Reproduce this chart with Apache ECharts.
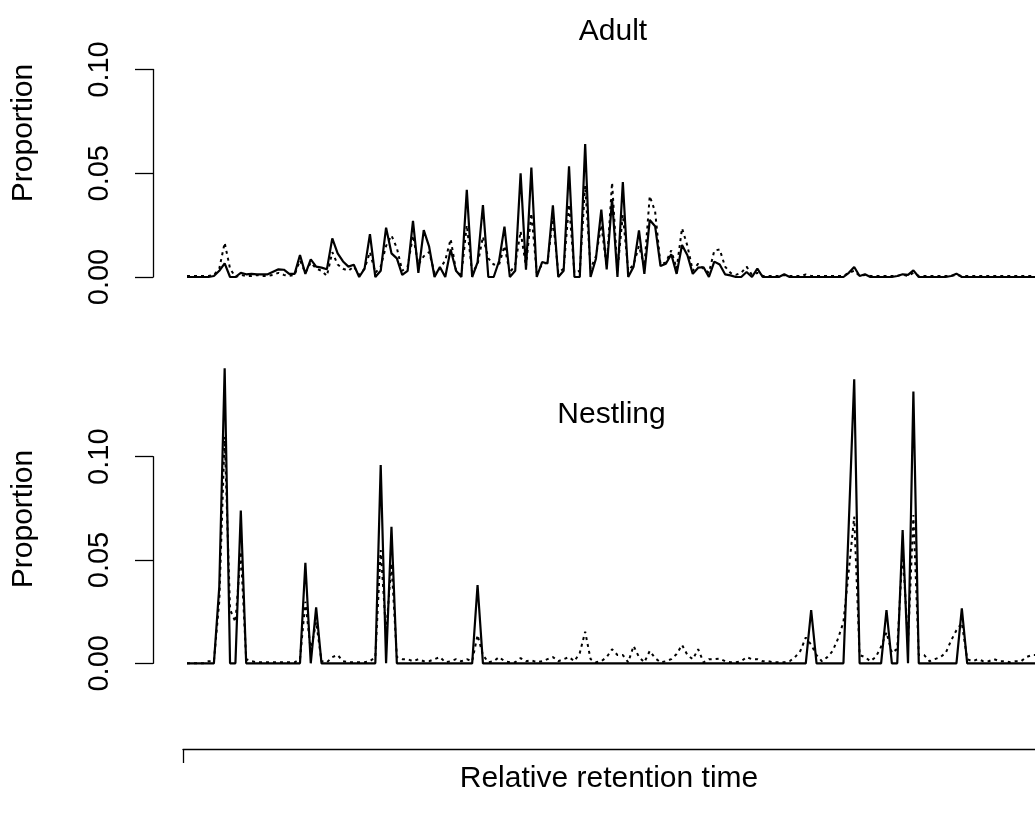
<!DOCTYPE html>
<html>
<head>
<meta charset="utf-8">
<script src="https://cdn.jsdelivr.net/npm/echarts@6/dist/echarts.min.js"></script>
<style>
html,body{margin:0;padding:0;background:#fff;}
#chart{width:1035px;height:818px;}
</style>
</head>
<body>
<div id="chart"></div>
<script>
// Adult: solid line (one value per retention step, starting at step 0)
const adultSolid = [
  0, 0, 0, 0, 0, 0.0005, 0.003, 0.0066, 0, 0, 0.002, 0.0013, 0.0015, 0.0013, 0.0013, 0.0013, 0.0025, 0.0037, 0.0035, 0.0015,
  0.0015, 0.0106, 0.0015, 0.0085, 0.005, 0.0045, 0.0037, 0.0186, 0.0114, 0.0075, 0.005, 0.0059, 0, 0.004, 0.0207, 0, 0.003, 0.0238, 0.0114, 0.009,
  0.001, 0.003, 0.0271, 0.002, 0.0226, 0.0146, 0, 0.0048, 0, 0.0133, 0.003, 0, 0.042, 0, 0.007, 0.0347, 0, 0, 0.0077, 0.0243,
  0, 0.003, 0.050, 0.0035, 0.0528, 0, 0.0072, 0.0065, 0.0345, 0, 0.003, 0.0533, 0, 0, 0.0641, 0, 0.0088, 0.0325, 0.0037, 0.0375,
  0, 0.0457, 0, 0.005, 0.0225, 0.0015, 0.0275, 0.0245, 0.0053, 0.0064, 0.011, 0.0015, 0.0154, 0.0105, 0.0015, 0.0045, 0.0047, 0, 0.0074, 0.006,
  0.0013, 0.0008, 0, 0, 0.0024, 0, 0.004, 0, 0, 0, 0, 0.0013, 0, 0, 0, 0, 0, 0, 0, 0,
  0, 0, 0, 0.002, 0.0048, 0.0005, 0.0013, 0, 0, 0, 0, 0, 0.0005, 0.0013, 0.001, 0.0032, 0, 0, 0, 0,
  0, 0, 0.0005, 0.0016, 0, 0, 0, 0, 0, 0, 0, 0, 0, 0, 0, 0, 0, 0, 0, 0
];
// Adult: dotted line
const adultDotted = [
  0.0005, 0.0005, 0.0005, 0.0005, 0.0005, 0.001, 0.004, 0.0165, 0.004, 0, 0.001, 0.0005, 0.0005, 0.001, 0.0005, 0.0005, 0.001, 0.002, 0.001, 0.0005,
  0.001, 0.008, 0.002, 0.007, 0.004, 0.003, 0.0005, 0.012, 0.006, 0.004, 0.003, 0.005, 0.001, 0.004, 0.012, 0.002, 0.005, 0.015, 0.02, 0.014,
  0.003, 0.005, 0.02, 0.006, 0.01, 0.012, 0.002, 0.004, 0.008, 0.0183, 0.003, 0.001, 0.025, 0.002, 0.006, 0.0194, 0.009, 0.006, 0.006, 0.015,
  0.002, 0.006, 0.022, 0.005, 0.0307, 0.002, 0.006, 0.007, 0.028, 0.002, 0.004, 0.035, 0.002, 0.003, 0.044, 0.004, 0.01, 0.025, 0.005, 0.0455,
  0.003, 0.03, 0.003, 0.006, 0.015, 0.005, 0.039, 0.0315, 0.006, 0.007, 0.0128, 0.004, 0.0235, 0.015, 0.003, 0.0064, 0.004, 0.002, 0.0127, 0.0133,
  0.005, 0.002, 0.001, 0.002, 0.005, 0.001, 0.002, 0.0005, 0.0005, 0.0005, 0.0005, 0.001, 0.0005, 0.0005, 0.0005, 0.0012, 0.0005, 0.0005, 0.0005, 0.0005,
  0.0005, 0.0005, 0.0005, 0.002, 0.003, 0.0005, 0.001, 0.0005, 0.0005, 0.0005, 0.0005, 0.0005, 0.0005, 0.0012, 0.0005, 0.002, 0.0005, 0.0005, 0.0005, 0.0005,
  0.0005, 0.0005, 0.0005, 0.001, 0.0005, 0.0005, 0.0005, 0.0005, 0.0005, 0.0005, 0.0005, 0.0005, 0.0005, 0.0005, 0.0005, 0.0005, 0.0005, 0.0005, 0.0005, 0.0005
];
// Nestling: solid line
const nestlingSolid = [
  0, 0, 0, 0, 0, 0, 0.037, 0.1428, 0, 0, 0.0739, 0, 0, 0, 0, 0, 0, 0, 0, 0,
  0, 0, 0.0487, 0, 0.0271, 0, 0, 0, 0, 0, 0, 0, 0, 0, 0, 0, 0.096, 0, 0.0661, 0,
  0, 0, 0, 0, 0, 0, 0, 0, 0, 0, 0, 0, 0, 0, 0.0379, 0, 0, 0, 0, 0,
  0, 0, 0, 0, 0, 0, 0, 0, 0, 0, 0, 0, 0, 0, 0, 0, 0, 0, 0, 0,
  0, 0, 0, 0, 0, 0, 0, 0, 0, 0, 0, 0, 0, 0, 0, 0, 0, 0, 0, 0,
  0, 0, 0, 0, 0, 0, 0, 0, 0, 0, 0, 0, 0, 0, 0, 0, 0.0258, 0, 0, 0,
  0, 0, 0, 0.068, 0.1375, 0, 0, 0, 0, 0, 0.0258, 0, 0, 0.0645, 0, 0.1315, 0, 0, 0, 0,
  0, 0, 0, 0, 0.0266, 0, 0, 0, 0, 0, 0, 0, 0, 0, 0, 0, 0, 0, 0, 0
];
// Nestling: dotted line
const nestlingDotted = [
  0, 0, 0, 0, 0.001, 0.001, 0.03, 0.1097, 0.026, 0.02, 0.054, 0.002, 0.001, 0.0005, 0.0005, 0.0005, 0.0005, 0.0005, 0.0005, 0.0005,
  0.0005, 0.002, 0.0298, 0.006, 0.02, 0.001, 0.0005, 0.003, 0.004, 0.001, 0.0005, 0.0005, 0.0005, 0.0005, 0.001, 0.003, 0.0548, 0.015, 0.0484, 0.003,
  0.002, 0.002, 0.001, 0.002, 0.001, 0.001, 0.002, 0.003, 0.0005, 0.001, 0.002, 0.001, 0.002, 0.001, 0.0137, 0.004, 0.0005, 0.001, 0.003, 0.001,
  0.0005, 0.0005, 0.0025, 0.001, 0.0015, 0.0005, 0.001, 0.002, 0.003, 0.001, 0.002, 0.003, 0.001, 0.005, 0.0153, 0.002, 0.0005, 0.001, 0.003, 0.0068,
  0.004, 0.004, 0.0005, 0.0084, 0.003, 0.0005, 0.006, 0.0025, 0.0005, 0.001, 0.002, 0.0045, 0.0089, 0.004, 0.002, 0.0068, 0.0005, 0.002, 0.002, 0.0023,
  0.001, 0.0005, 0.0005, 0.001, 0.003, 0.002, 0.002, 0.001, 0.001, 0.0005, 0.0005, 0.0005, 0.001, 0.003, 0.006, 0.0125, 0.009, 0.004, 0.001, 0.003,
  0.006, 0.012, 0.02, 0.045, 0.071, 0.004, 0.003, 0.001, 0.003, 0.008, 0.015, 0.005, 0.007, 0.055, 0.01, 0.0718, 0.004, 0.004, 0.001, 0.002,
  0.003, 0.005, 0.011, 0.016, 0.0195, 0.002, 0.001, 0.002, 0.001, 0.001, 0.002, 0.001, 0.001, 0.0005, 0.001, 0.001, 0.003, 0.004, 0.004, 0.003
];
// Y tick values
const yTicks = [0, 0.05, 0.10];
// Visible span of the retention-step axis (steps beyond the right edge are cut off, as in the original)
const stepRange = [0, 157.6];

const FONT = 'Liberation Sans, Arial, Helvetica, sans-serif';
const chart = echarts.init(document.getElementById('chart'), null, {renderer: 'canvas'});

const toPoints = arr => arr.map((v, i) => [i, v]);

function yAxisFor(gridIndex) {
  return {
    gridIndex: gridIndex,
    type: 'value',
    min: yTicks[0],
    max: yTicks[yTicks.length - 1],
    interval: yTicks[1] - yTicks[0],
    offset: 34,
    splitLine: {show: false},
    axisLine: {show: true, onZero: false, lineStyle: {color: '#000', width: 1.3}},
    axisTick: {show: true, length: 18, lineStyle: {color: '#000', width: 1.3}},
    axisLabel: {
      rotate: 90, margin: 39, color: '#000', fontSize: 29, fontFamily: FONT,
      formatter: v => v.toFixed(2)
    }
  };
}
function xAxisFor(gridIndex) {
  return {
    gridIndex: gridIndex, type: 'value', min: stepRange[0], max: stepRange[1], show: false,
    axisLine: {onZero: false}
  };
}
const solidStyle = {color: '#000', width: 2.2};
const dottedStyle = {color: '#000', width: 2, type: [3, 4]};
const titleStyle = {fontSize: 30, fontWeight: 'normal', color: '#000', fontFamily: FONT};

chart.setOption({
  animation: false,
  backgroundColor: '#fff',
  title: [
    {text: 'Adult', left: 608, top: 12, textAlign: 'center', padding: 5, textStyle: titleStyle},
    {text: 'Nestling', left: 606.5, top: 395, textAlign: 'center', padding: 5, textStyle: titleStyle},
    {text: 'Relative retention time', left: 604, top: 759, textAlign: 'center', padding: 5, textStyle: titleStyle}
  ],
  graphic: [
    {type: 'text', x: 24, y: 133, rotation: Math.PI / 2,
     style: {text: 'Proportion', fontSize: 30, fontFamily: FONT, fill: '#000', align: 'center', verticalAlign: 'middle'}},
    {type: 'text', x: 24, y: 519, rotation: Math.PI / 2,
     style: {text: 'Proportion', fontSize: 30, fontFamily: FONT, fill: '#000', align: 'center', verticalAlign: 'middle'}}
  ],
  grid: [
    {left: 187, top: 69.5, right: 0, height: 207.5},
    {left: 187, top: 456.7, right: 0, height: 206.6},
    {left: 183, top: 748, right: 0, height: 1}
  ],
  xAxis: [
    xAxisFor(0),
    xAxisFor(1),
    {
      gridIndex: 2, type: 'value', min: 0, max: 10, position: 'bottom',
      splitLine: {show: false},
      axisLine: {show: true, onZero: false, lineStyle: {color: '#000', width: 1.3}},
      axisTick: {show: true, length: 14, customValues: [0], lineStyle: {color: '#000', width: 1.3}},
      axisLabel: {show: false}
    }
  ],
  yAxis: [
    yAxisFor(0),
    yAxisFor(1),
    {gridIndex: 2, type: 'value', show: false}
  ],
  series: [
    {name: 'Adult dotted', type: 'line', xAxisIndex: 0, yAxisIndex: 0, data: toPoints(adultDotted),
     symbol: 'none', clip: false, lineStyle: dottedStyle},
    {name: 'Adult solid', type: 'line', xAxisIndex: 0, yAxisIndex: 0, data: toPoints(adultSolid),
     symbol: 'none', clip: false, lineStyle: solidStyle},
    {name: 'Nestling dotted', type: 'line', xAxisIndex: 1, yAxisIndex: 1, data: toPoints(nestlingDotted),
     symbol: 'none', clip: false, lineStyle: dottedStyle},
    {name: 'Nestling solid', type: 'line', xAxisIndex: 1, yAxisIndex: 1, data: toPoints(nestlingSolid),
     symbol: 'none', clip: false, lineStyle: solidStyle}
  ]
});
</script>
</body>
</html>
